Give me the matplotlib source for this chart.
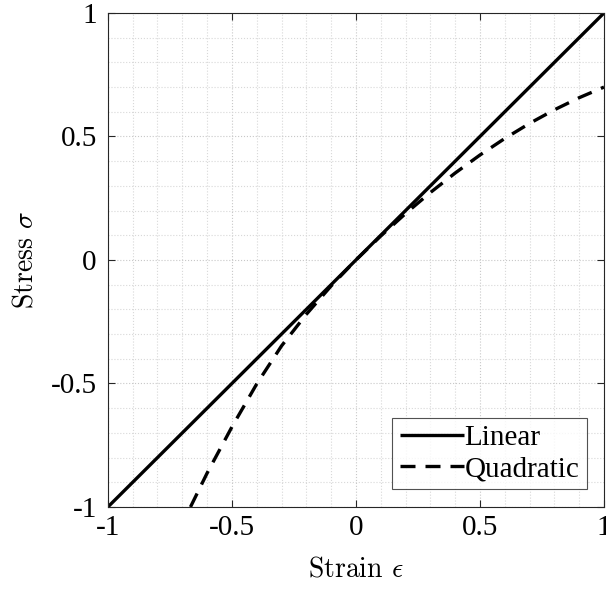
import matplotlib
matplotlib.use("Agg")
import matplotlib.pyplot as plt
from matplotlib.ticker import MultipleLocator, FuncFormatter

plt.rcParams['font.family'] = ['Liberation Serif', 'DejaVu Serif']
plt.rcParams['mathtext.fontset'] = 'cm'
plt.rcParams['axes.unicode_minus'] = False

linear_strain = [-1.0, 1.0]
linear_stress = [-1.0, 1.0]

quad_strain = [-0.667, -0.6, -0.5, -0.4, -0.3, -0.2, -0.1, 0.0, 0.1, 0.2, 0.3,
               0.4, 0.5, 0.6, 0.7, 0.8, 0.9, 1.0]
quad_stress = [-1.0, -0.863, -0.676, -0.502, -0.348, -0.22, -0.105, 0.0, 0.097,
               0.188, 0.273, 0.352, 0.425, 0.492, 0.553, 0.608, 0.657, 0.70]

ticks = [-1, -0.5, 0, 0.5, 1]
FS = 21

fig = plt.figure(figsize=(6.06, 5.90), dpi=100)
ax = fig.add_axes([0.178, 0.1407, 0.8187, 0.8373])

ax.plot(linear_strain, linear_stress, color='black', lw=2.4, label='Linear',
        solid_capstyle='butt')
ax.plot(quad_strain, quad_stress, color='black', lw=2.4, linestyle=(0, (4.5, 3.0)),
        label='Quadratic')

ax.set_xlim(-1, 1)
ax.set_ylim(-1, 1)
ax.set_xticks(ticks)
ax.set_yticks(ticks)
fmt = FuncFormatter(lambda v, p: ('%g' % v))
ax.xaxis.set_major_formatter(fmt)
ax.yaxis.set_major_formatter(fmt)
ax.xaxis.set_minor_locator(MultipleLocator(0.1))
ax.yaxis.set_minor_locator(MultipleLocator(0.1))

ax.grid(True, which='major', linestyle=':', color='#c8c8c8', lw=0.8)
ax.grid(True, which='minor', linestyle=':', color='#d8d8d8', lw=0.8)
ax.set_axisbelow(True)

ax.tick_params(which='major', direction='in', length=5, width=0.8, top=True, right=True,
               labelsize=FS, colors='#262626', labelcolor='black')
ax.tick_params(axis='x', which='major', pad=6)
ax.tick_params(axis='y', which='major', pad=8)
ax.tick_params(which='minor', length=0, top=True, right=True)
for s in ax.spines.values():
    s.set_color('#262626')
    s.set_linewidth(0.8)

ax.set_xlabel(r'Strain $\epsilon$', fontsize=20, labelpad=11, family='cmr10')
ax.set_ylabel(r'Stress $\sigma$', fontsize=20, labelpad=9, family='cmr10')

leg = ax.legend(loc='lower right', fontsize=FS, frameon=True, fancybox=False,
                edgecolor='#262626', handlelength=2.2, handletextpad=0.02,
                borderpad=0.25, labelspacing=0.15, borderaxespad=0.6)
leg.get_frame().set_linewidth(0.8)

fig.savefig('out.png', dpi=100)
